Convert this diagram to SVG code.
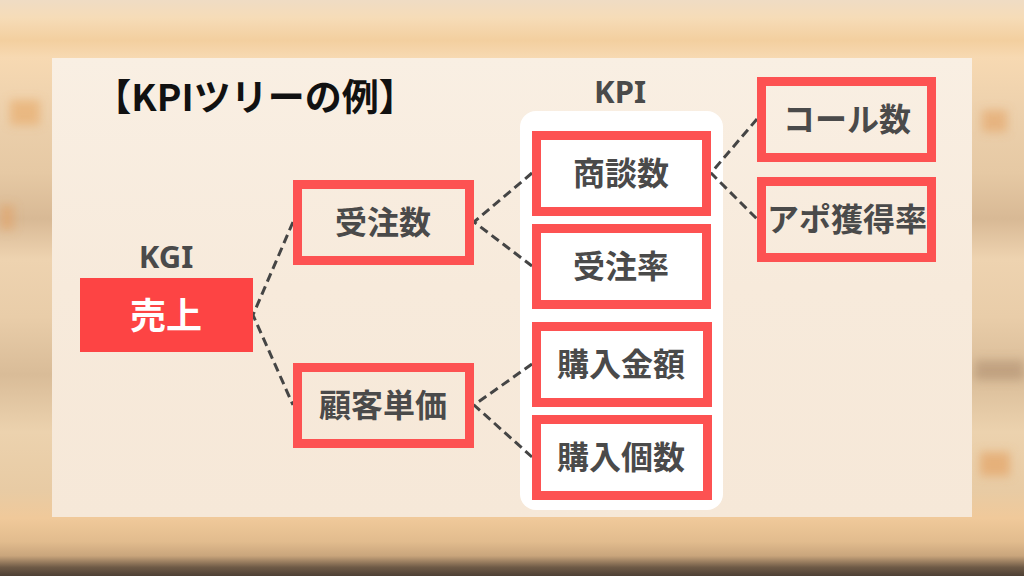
<svg xmlns="http://www.w3.org/2000/svg" width="1024" height="576" viewBox="0 0 1024 576">
  <defs>
    <linearGradient id="wood" x1="0" y1="0" x2="0" y2="1">
      <stop offset="0" stop-color="#efdcc4"/>
      <stop offset="0.03" stop-color="#f6dcb8"/>
      <stop offset="0.07" stop-color="#f3cf9f"/>
      <stop offset="0.1" stop-color="#f7d9b2"/>
      <stop offset="0.2" stop-color="#ecd0ac"/>
      <stop offset="0.3" stop-color="#e6c9a4"/>
      <stop offset="0.38" stop-color="#d8b995"/>
      <stop offset="0.45" stop-color="#eed3b0"/>
      <stop offset="0.55" stop-color="#e9cda9"/>
      <stop offset="0.65" stop-color="#d9bc98"/>
      <stop offset="0.75" stop-color="#ecd2ae"/>
      <stop offset="0.85" stop-color="#e8cba4"/>
      <stop offset="0.9" stop-color="#f0c99a"/>
      <stop offset="0.94" stop-color="#e2bc8e"/>
      <stop offset="0.965" stop-color="#c9a57c"/>
      <stop offset="0.985" stop-color="#6e5a46"/>
      <stop offset="1" stop-color="#4e4034"/>
    </linearGradient>
    <linearGradient id="panelGrad" x1="0" y1="0" x2="0" y2="1">
      <stop offset="0" stop-color="#f9efe3"/>
      <stop offset="0.5" stop-color="#f7eadb"/>
      <stop offset="1" stop-color="#f6e8d8"/>
    </linearGradient>
    <filter id="blur" x="-50%" y="-50%" width="200%" height="200%">
      <feGaussianBlur stdDeviation="5"/>
    </filter>
  </defs>
  <style>
    .box { fill: none; stroke: #fd5252; stroke-width: 9; }
    .lbl { font-family: "Noto Sans CJK JP", "Noto Sans", sans-serif; font-weight: 700; fill: #4a4a4a; text-anchor: middle; dominant-baseline: central; font-size: 32px; }
    .head { font-family: "Noto Sans", "Noto Sans CJK JP", sans-serif; font-weight: 700; fill: #4a4a4a; text-anchor: middle; font-size: 31px; }
    .conn { fill: none; stroke: #454545; stroke-width: 3; stroke-dasharray: 9 5; }
  </style>

  <!-- background -->
  <rect x="0" y="0" width="1024" height="576" fill="url(#wood)"/>
  <g filter="url(#blur)">
    <rect x="10" y="100" width="30" height="25" fill="#e7a866" opacity="0.6"/>
    <rect x="0" y="205" width="14" height="25" fill="#e39d5c" opacity="0.5"/>
    <rect x="982" y="110" width="25" height="22" fill="#e4a263" opacity="0.6"/>
    <rect x="980" y="452" width="30" height="24" fill="#e3a262" opacity="0.65"/>
    <rect x="975" y="360" width="49" height="20" fill="#a8886a" opacity="0.5"/>
  </g>

  <!-- panel -->
  <rect x="52" y="58" width="920" height="459" fill="url(#panelGrad)"/>

  <!-- white KPI column -->
  <rect x="520" y="111" width="203" height="399" rx="16" ry="16" fill="#ffffff"/>

  <!-- title & headers -->
  <text x="255" y="111" font-family="Noto Sans CJK JP, Noto Sans, sans-serif" font-weight="700" font-size="37" fill="#111111" text-anchor="middle">【KPIツリーの例】</text>
  <text class="head" x="166" y="268">KGI</text>
  <text class="head" x="620" y="103">KPI</text>

  <!-- connectors -->
  <g id="connectors">
    <polyline class="conn" points="293,222 253,315 293,405"/>
    <polyline class="conn" points="532,173 474,222 532,266"/>
    <polyline class="conn" points="532,364 474,405 532,457"/>
    <polyline class="conn" points="757,119 711,173 757,219"/>
  </g>

  <!-- nodes -->
  <g id="node-uriage">
    <rect x="80" y="278" width="173" height="74" fill="#fd4444"/>
    <text class="lbl" x="166" y="313" style="fill:#ffffff;font-size:36px">売上</text>
  </g>
  <g id="node-juchusu">
    <rect class="box" x="297.5" y="184.5" width="172" height="76"/>
    <text class="lbl" x="383" y="220">受注数</text>
  </g>
  <g id="node-kokyakutanka">
    <rect class="box" x="297.5" y="367.5" width="172" height="76"/>
    <text class="lbl" x="383" y="403">顧客単価</text>
  </g>
  <g id="node-shodansu">
    <rect class="box" x="536.5" y="135.5" width="170" height="76"/>
    <text class="lbl" x="621" y="171">商談数</text>
  </g>
  <g id="node-juchuritsu">
    <rect class="box" x="536.5" y="228.5" width="170" height="76"/>
    <text class="lbl" x="621" y="264">受注率</text>
  </g>
  <g id="node-konyukingaku">
    <rect class="box" x="536.5" y="326.5" width="171" height="76"/>
    <text class="lbl" x="621" y="362">購入金額</text>
  </g>
  <g id="node-konyukosu">
    <rect class="box" x="536.5" y="419.5" width="171" height="76"/>
    <text class="lbl" x="621" y="455">購入個数</text>
  </g>
  <g id="node-call">
    <rect class="box" x="761.5" y="81.5" width="170" height="76"/>
    <text class="lbl" x="847" y="117">コール数</text>
  </g>
  <g id="node-apo">
    <rect class="box" x="761.5" y="181.5" width="170" height="76"/>
    <text class="lbl" x="847" y="217">アポ獲得率</text>
  </g>
</svg>
